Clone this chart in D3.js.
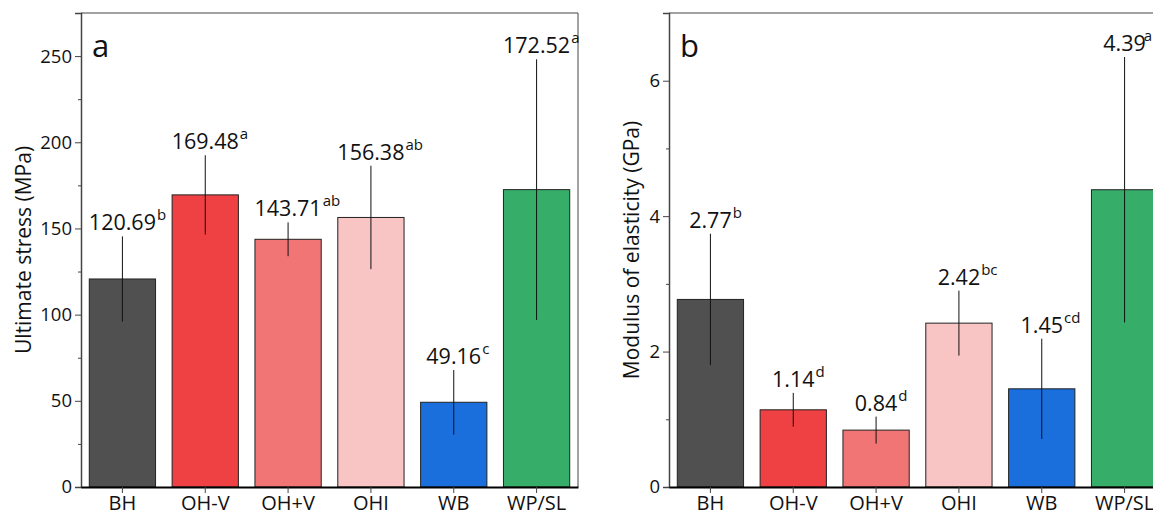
<!DOCTYPE html>
<html>
<head>
<meta charset="utf-8">
<script src="https://cdn.jsdelivr.net/npm/d3@7"></script>
<style>
  body { margin: 0; background: #fff; }
  svg { display: block; font-family: "Open Sans", sans-serif; }
</style>
</head>
<body>
<div id="chart"></div>
<script>
// data
let categories = ["BH", "OH-V", "OH+V", "OHI", "WB", "WP/SL"];
let colors = ["#505050", "#ef4143", "#f27576", "#f9c4c4", "#1b6fdd", "#36ae6a"];

let stressMean = [120.69, 169.48, 143.71, 156.38, 49.16, 172.52];
let stressErr = [24.7, 23.0, 9.8, 30.0, 18.7, 75.6];
let stressLetters = ["b", "a", "ab", "ab", "c", "a"];

let modulusMean = [2.77, 1.14, 0.84, 2.42, 1.45, 4.39];
let modulusErr = [0.97, 0.25, 0.2, 0.48, 0.74, 1.96];
let modulusLetters = ["b", "d", "d", "bc", "cd", "a"];

let svgWidth = 1153;
let svgHeight = 517;

let svg = d3.select("#chart")
    .append("svg")
    .attr("width", svgWidth)
    .attr("height", svgHeight);

function drawPanel(opts) {
    let chartWidth = 497;
    let top = 13, bottom = 487;

    let g = svg.append("g")
        .attr("transform", `translate(${opts.left}, 0)`);

    let x = d3.scaleBand()
        .domain(categories)
        .range([0, chartWidth])
        .paddingInner(0.2)
        .paddingOuter(0.1);

    let y = d3.scaleLinear()
        .domain([0, opts.yMax])
        .range([bottom, top]);

    // frame top and right
    g.append("line")
        .attr("x1", 0).attr("x2", chartWidth)
        .attr("y1", top).attr("y2", top)
        .attr("stroke", "#444").attr("stroke-width", 1);
    g.append("line")
        .attr("x1", chartWidth).attr("x2", chartWidth)
        .attr("y1", top).attr("y2", bottom)
        .attr("stroke", "#444").attr("stroke-width", 1);

    // bars
    g.selectAll("rect.bar")
        .data(opts.mean)
        .enter()
        .append("rect")
        .attr("class", "bar")
        .attr("x", (d, i) => x(categories[i]))
        .attr("y", d => y(d))
        .attr("width", x.bandwidth())
        .attr("height", d => y(0) - y(d))
        .attr("fill", (d, i) => colors[i])
        .attr("stroke", "#222")
        .attr("stroke-width", 1);

    // error bars
    g.selectAll("line.err")
        .data(opts.mean)
        .enter()
        .append("line")
        .attr("class", "err")
        .attr("x1", (d, i) => x(categories[i]) + x.bandwidth() / 2)
        .attr("x2", (d, i) => x(categories[i]) + x.bandwidth() / 2)
        .attr("y1", (d, i) => y(d + opts.err[i]))
        .attr("y2", (d, i) => y(d - opts.err[i]))
        .attr("stroke", "#111")
        .attr("stroke-width", 1);

    // value labels with significance letters
    opts.mean.forEach((d, i) => {
        let cx = x(categories[i]) + x.bandwidth() / 2;
        let ty = y(d + opts.err[i]) - 6;
        let num = g.append("text")
            .attr("x", cx)
            .attr("y", ty)
            .attr("text-anchor", "middle")
            .attr("font-size", "21.5px")
            .attr("fill", "#111")
            .text(d.toFixed(2));
        let w = num.node().getComputedTextLength();
        let sup = g.append("text")
            .attr("y", ty - 10)
            .attr("font-size", "15px")
            .attr("fill", "#111")
            .text(opts.letters[i]);
        let sw = sup.node().getComputedTextLength();
        // keep the letter inside the picture
        let sx = Math.min(cx + w / 2 + 1, svgWidth - opts.left - sw - 1);
        sup.attr("x", sx);
    });

    // axes
    let yAxis = g.append("g")
        .call(d3.axisLeft(y).tickValues(opts.major).tickSize(6).tickPadding(3).tickFormat(d3.format("d")));
    yAxis.select(".domain").attr("stroke", "#444").attr("stroke-width", 1.5);
    yAxis.selectAll(".tick text").attr("font-size", "18.5px").attr("fill", "#111").attr("font-family", "Open Sans");
    yAxis.selectAll(".tick line").attr("stroke", "#444");

    let yMinor = g.append("g")
        .call(d3.axisLeft(y).tickValues(opts.minor).tickSize(3).tickFormat(""));
    yMinor.select(".domain").remove();
    yMinor.selectAll(".tick line").attr("stroke", "#444");

    let xAxis = g.append("g")
        .attr("transform", `translate(0, ${bottom})`)
        .call(d3.axisBottom(x).tickSize(6).tickPadding(3).tickSizeOuter(0));
    xAxis.select(".domain").attr("stroke", "#000").attr("stroke-width", 2);
    xAxis.selectAll(".tick line").attr("stroke", "#444");
    xAxis.selectAll(".tick text").attr("font-size", "20px").attr("fill", "#111").attr("font-family", "Open Sans");

    // axis title
    g.append("text")
        .attr("transform", "rotate(-90)")
        .attr("x", -(top + bottom) / 2)
        .attr("y", opts.titleY)
        .attr("text-anchor", "middle")
        .attr("font-size", "21px")
        .attr("fill", "#111")
        .text(opts.title);

    // panel letter
    g.append("text")
        .attr("x", 11)
        .attr("y", 57)
        .attr("font-size", "31px")
        .attr("fill", "#111")
        .text(opts.letter);
}

drawPanel({
    left: 81, yMax: 275,
    mean: stressMean, err: stressErr, letters: stressLetters,
    major: [0, 50, 100, 150, 200, 250],
    minor: [25, 75, 125, 175, 225],
    title: "Ultimate stress (MPa)", titleY: -50, letter: "a"
});

drawPanel({
    left: 669, yMax: 7,
    mean: modulusMean, err: modulusErr, letters: modulusLetters,
    major: [0, 2, 4, 6],
    minor: [1, 3, 5],
    title: "Modulus of elasticity (GPa)", titleY: -30, letter: "b"
});
</script>
</body>
</html>
